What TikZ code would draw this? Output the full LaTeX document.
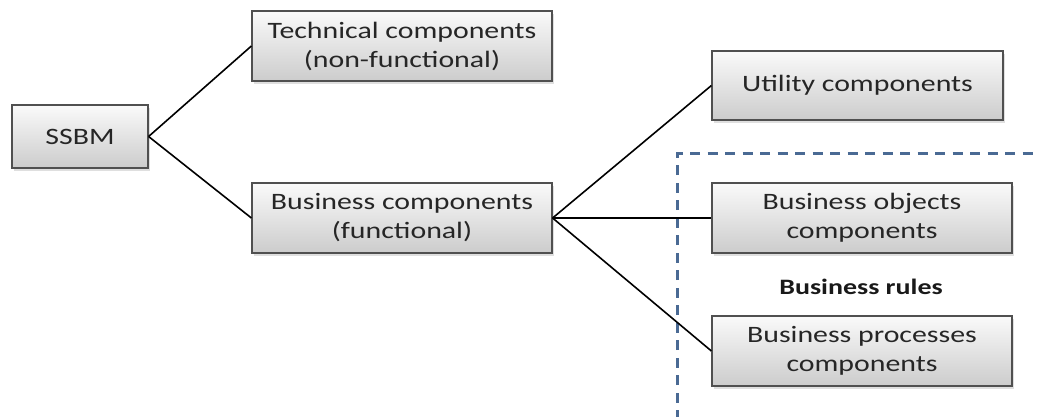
\documentclass[tikz,border=0pt]{standalone}
\usepackage{fontspec}
\setmainfont{Carlito}
\newfontfamily\widefont[FakeStretch=1.27]{Carlito}
\usetikzlibrary{shadows}
\definecolor{dashblue}{HTML}{4A6A94}
\definecolor{boxedge}{HTML}{505050}
\tikzset{
  box/.style={draw=boxedge, line width=1.2pt, top color=gray!4, bottom color=gray!40,
    minimum width=#1, minimum height=70pt, inner sep=0pt, align=center,
    font=\widefont\fontsize{23.5}{29}\selectfont, text=black!85,
    drop shadow={opacity=0.25, shadow xshift=1.5pt, shadow yshift=-2.5pt}},
  link/.style={line width=1.6pt, black},
  sep/.style={dashblue, line width=3pt, dash pattern=on 10pt off 7.5pt}
}
\begin{document}
\begin{tikzpicture}[x=1pt,y=-1pt]
\useasboundingbox (0,0) rectangle (1044,416);
\node[box=136pt, minimum height=63pt] (ssbm) at (80,136.5) {SSBM};
\node[box=300pt] (tech) at (402,46) {Technical components\\(non-functional)};
\node[box=300pt] (bus) at (402,218) {Business components\\(functional)};
\node[box=291pt, minimum height=69pt] (util) at (857.5,85.5) {Utility components};
\node[box=300pt] (obj) at (862,218) {Business objects\\components};
\node[box=300pt] (proc) at (862,351) {Business processes\\components};
\node[font=\widefont\bfseries\fontsize{22}{26}\selectfont, text=black!90] (rules) at (861,287) {Business rules};
\coordinate (dtop) at (677,153);
\coordinate (dbot) at (677,420);
\coordinate (dright) at (1040,153);
\draw[sep] (dbot) -- (dtop) -- (dright);
\draw[link] (ssbm.east) -- (tech.west);
\draw[link] (ssbm.east) -- (bus.west);
\draw[link] (bus.east) -- (util.west);
\draw[link] (bus.east) -- (obj.west);
\draw[link] (bus.east) -- (proc.west);
\end{tikzpicture}
\end{document}
